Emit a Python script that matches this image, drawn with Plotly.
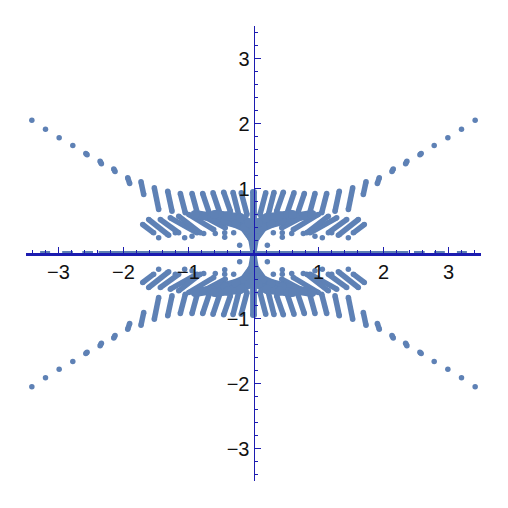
import numpy as np
import plotly.graph_objects as go

# upper right quadrant, the other three are mirrored from it
dot_x = [3.41, 3.20, 2.99, 2.78, 0.213, 0.443, 0.443, 0.766, 1.059, 1.305, 1.459, 0.946, 0.588, 0.305, 1.203, 0.177, 0.0]
dot_y = [2.05, 1.91, 1.78, 1.66, 0.128, 0.318, 0.251, 0.308, 0.241, 0.282, 0.241, 0.267, 0.308, 0.318, 0.318, 0.554, 0.523]

# runs of dots, read as end points, None splits them
run_x = [2.58, 2.56, None, 2.36, 2.34, None, 2.15, 2.13, None, 1.935, 1.905, None, 1.731, 1.689, None,
         1.526, 1.459, None, 1.32, 1.254, None, 1.126, 1.049, None, 0.946, 0.858, None, 0.782, 0.664, None,
         0.623, 0.51, None, 0.459, 0.356, None, 0.315, 0.228, None, 0.188, 0.10, None, 0.01, 0.01, None,
         1.705, 1.536, None, 1.613, 1.32, None, 1.434, 1.151, None, 1.28, 0.869, None, 1.151, 0.818, None,
         0.997, 0.612, None, 0.818, 0.434, None, 0.008, 0.04, 0.10]
run_y = [1.54, 1.52, None, 1.42, 1.38, None, 1.30, 1.26, None, 1.165, 1.077, None, 1.103, 0.908, None,
         1.01, 0.677, None, 0.959, 0.651, None, 0.923, 0.626, None, 0.923, 0.60, None, 0.923, 0.574, None,
         0.933, 0.60, None, 0.943, 0.65, None, 0.94, 0.60, None, 0.933, 0.60, None, 0.95, 0.50, None,
         0.446, 0.318, None, 0.523, 0.292, None, 0.523, 0.318, None, 0.549, 0.318, None, 0.574, 0.318, None,
         0.60, 0.369, None, 0.60, 0.395, None, 0.035, 0.22, 0.32]

# wide band that curls out of the origin
band_x = [0.03, 0.14, 0.27, 0.44, 0.64, 0.90, None,
          0.0, 0.07, 0.20, 0.40, 0.60]
band_y = [0.25, 0.40, 0.46, 0.51, 0.56, 0.60, None,
          0.35, 0.47, 0.55, 0.58, 0.60]

# pieces lying on the x axis
flat_x = [3.28, 3.13, None, 2.94, 2.78, None, 2.63, 2.47, None, 2.38, 0.0]
flat_y = [0, 0, None, 0, 0, None, 0, 0, None, 0, 0]

x_ticks = [-3, -2, -1, 1, 2, 3]
y_ticks = [-3, -2, -1, 1, 2, 3]
x_labels = ["\u22123", "\u22122", "\u22121", "1", "2", "3"]
y_labels = ["\u22123", "\u22122", "\u22121", "1", "2", "3"]

POINT = "#5e81b5"
AXIS = "#1c1cb0"


def mirrored(xs, ys):
    xs = np.array(xs, dtype=float)
    ys = np.array(ys, dtype=float)
    out_x, out_y = [], []
    for sx, sy in [(1, 1), (-1, 1), (1, -1), (-1, -1)]:
        out_x += list(sx * xs) + [None]
        out_y += list(sy * ys) + [None]
    return [None if v is None or np.isnan(v) else float(v) for v in out_x], \
           [None if v is None or np.isnan(v) else float(v) for v in out_y]


fig = go.Figure()
mx, my = mirrored(dot_x, dot_y)
fig.add_trace(go.Scatter(x=mx, y=my, mode="markers", marker=dict(color=POINT, size=5.5)))
mx, my = mirrored(run_x, run_y)
fig.add_trace(go.Scatter(x=mx, y=my, mode="lines+markers", connectgaps=False,
                         line=dict(color=POINT, width=5.5), marker=dict(color=POINT, size=5.5)))
mx, my = mirrored(band_x, band_y)
fig.add_trace(go.Scatter(x=mx, y=my, mode="lines+markers", connectgaps=False,
                         line=dict(color=POINT, width=9), marker=dict(color=POINT, size=9)))
mx, my = mirrored(flat_x, flat_y)
fig.add_trace(go.Scatter(x=mx, y=my, mode="lines", connectgaps=False, line=dict(color=POINT, width=5)))

font = dict(family="Liberation Sans, Arial, sans-serif", size=20, color="#111111")
common = dict(range=[-3.5, 3.5], showgrid=False, zeroline=False, showline=True, ticks="inside",
              tickfont=font, anchor="free", position=0.5, layer="above traces",
              ticklen=6, tickcolor=AXIS, tickwidth=1, ticklabelstandoff=0,
              minor=dict(ticks="inside", dtick=0.2, ticklen=3, tickcolor=AXIS, tickwidth=1, showgrid=False))
fig.update_xaxes(tickvals=x_ticks, ticktext=x_labels, linecolor=AXIS, linewidth=2.5, **common)
fig.update_yaxes(tickvals=y_ticks, ticktext=y_labels, linecolor=AXIS, linewidth=1, **common)
fig.update_layout(width=492, height=492, showlegend=False, paper_bgcolor="white", plot_bgcolor="white",
                  margin=dict(l=18, r=19, t=18, b=19))
fig.write_html("out.html")
